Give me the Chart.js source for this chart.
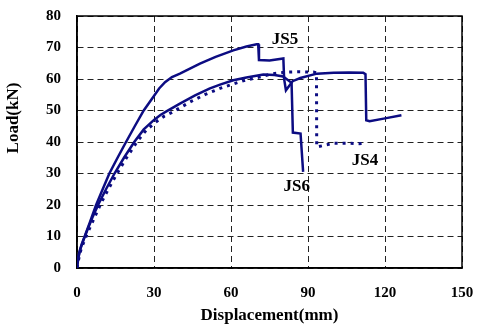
<!DOCTYPE html>
<html>
<head>
<meta charset="utf-8">
<script src="https://cdn.jsdelivr.net/npm/chart.js@4"></script>
<style>
  html, body { margin: 0; padding: 0; background: #fff; }
  #wrap { width: 477px; height: 327px; }
</style>
</head>
<body>
<div id="wrap"><canvas id="c" width="477" height="327"></canvas></div>
<script>
// ---- data ----
const xTicks = [0, 30, 60, 90, 120, 150];
const yTicks = [0, 10, 20, 30, 40, 50, 60, 70, 80];

const js5X = [0, 0.4, 0.9, 1.8, 3.2, 5, 7.4, 10, 12.6, 15.8, 19.1, 22.5, 26, 29.7, 32, 34.3, 37, 40.1, 44, 47.9, 54, 60.9, 66, 70, 70.6, 70.9, 75, 80.4, 80.7, 81.4, 84, 87, 93.4, 100, 106, 111.5, 112.4, 112.7, 114, 120, 126.4];
const js5Y = [0, 3, 5, 7.5, 10.5, 14.5, 19.9, 25, 30, 35, 40, 45, 50, 54.3, 57, 59, 60.6, 61.7, 63.3, 64.9, 67, 69.1, 70.3, 71, 71, 66, 65.9, 66.5, 60, 56.4, 59.3, 60.3, 61.7, 62, 62.1, 62, 61.5, 46.9, 46.6, 47.5, 48.5];

const js6X = [0, 0.5, 1.3, 2.6, 4, 6, 8.5, 11.3, 14.6, 18.3, 22.3, 26, 30, 32.5, 35, 40.1, 46, 51.8, 56, 60.9, 66, 72.6, 77, 80.3, 83.6, 84.1, 87.1, 88.1];
const js6Y = [0, 3, 6, 9, 12, 16, 20.5, 25, 30, 35, 40, 44, 47, 48.6, 49.8, 52.2, 54.8, 57, 58.3, 59.6, 60.5, 61.4, 61.3, 60.8, 58.8, 43, 42.7, 30.5];

const js4X = [0, 0.7, 1.6, 3, 4.6, 6.8, 9.3, 12.2, 15.6, 19.3, 23.3, 27, 31, 34, 37, 44.7, 50, 55.7, 60.8, 65.5, 71, 76.4, 81.7, 86, 92.1, 93.3, 93.4, 100, 106, 110.3, 110.5];
const js4Y = [0, 3, 6, 9, 12, 16, 20.5, 25, 30, 35, 40, 43.8, 46.5, 48.2, 49.4, 53, 55.1, 57, 58.4, 59.6, 60.6, 61.7, 62.2, 62.3, 62.2, 62, 38.4, 39.6, 39.6, 39.5, 37.5];

const seriesNames = ['JS5', 'JS6', 'JS4'];
// label anchor positions (data units)
const labelX = [81, 85.6, 112.2];
const labelY = [72.5, 25.7, 34.2];

const xTitle = 'Displacement(mm)';
const yTitle = 'Load(kN)';

function pts(xs, ys) { return xs.map((x, i) => ({ x: x, y: ys[i] })); }

const LINE = '#0c0c82';
const FONT = '"Liberation Serif", "Times New Roman", serif';

const overlay = {
  id: 'overlay',
  beforeDatasetsDraw(chart) {
    const { ctx, chartArea: a } = chart;
    ctx.save();
    ctx.strokeStyle = '#000';
    ctx.lineWidth = 1.5;
    ctx.strokeRect(a.left, a.top, a.right - a.left, a.bottom - a.top);
    ctx.restore();
  },
  afterDraw(chart) {
    const { ctx, scales } = chart;
    ctx.save();
    ctx.fillStyle = '#000';
    ctx.font = 'bold 17px ' + FONT;
    ctx.textAlign = 'center';
    ctx.textBaseline = 'middle';
    seriesNames.forEach((n, i) => {
      ctx.fillText(n, scales.x.getPixelForValue(labelX[i]), scales.y.getPixelForValue(labelY[i]));
    });
    // y title
    ctx.translate(14, 118);
    ctx.rotate(-Math.PI / 2);
    ctx.font = 'bold 17px ' + FONT;
    ctx.fillText(yTitle, 0, 0);
    ctx.restore();
  }
};

new Chart(document.getElementById('c'), {
  type: 'scatter',
  data: {
    datasets: [
      { label: seriesNames[0], data: pts(js5X, js5Y), showLine: true, borderColor: LINE, borderWidth: 2.5, pointRadius: 0, tension: 0 },
      { label: seriesNames[1], data: pts(js6X, js6Y), showLine: true, borderColor: LINE, borderWidth: 2.5, pointRadius: 0, tension: 0 },
      { label: seriesNames[2], data: pts(js4X, js4Y), showLine: true, borderColor: LINE, borderWidth: 3, borderDash: [3, 5], pointRadius: 0, tension: 0 }
    ]
  },
  options: {
    responsive: false,
    animation: false,
    events: [],
    layout: { padding: { top: 16, right: 15, left: 0, bottom: 0 } },
    plugins: { legend: { display: false }, tooltip: { enabled: false } },
    scales: {
      x: {
        type: 'linear', min: 0, max: 150,
        afterBuildTicks(s) { s.ticks = xTicks.map(v => ({ value: v })); },
        afterFit(s) { s.height = 59; s.paddingLeft = 0; s.paddingRight = 0; },
        ticks: { color: '#000', padding: 16, maxRotation: 0, font: { family: FONT, size: 15, weight: 'bold' } },
        grid: { color: '#222', lineWidth: 1, drawTicks: false },
        border: { display: true, color: '#000', width: 1.5, dash: [6, 4] },
        title: { display: true, text: xTitle, color: '#000', padding: { top: 0, bottom: 1 }, font: { family: FONT, size: 17, weight: 'bold' } }
      },
      y: {
        type: 'linear', min: 0, max: 80,
        afterBuildTicks(s) { s.ticks = yTicks.map(v => ({ value: v })); },
        afterFit(s) { s.width = 77; s.paddingTop = 0; s.paddingBottom = 0; },
        ticks: { color: '#000', padding: 16, font: { family: FONT, size: 15, weight: 'bold' } },
        grid: { color: '#222', lineWidth: 1, drawTicks: false },
        border: { display: true, color: '#000', width: 1.5, dash: [6, 4] }
      }
    }
  },
  plugins: [overlay]
});
</script>
</body>
</html>
